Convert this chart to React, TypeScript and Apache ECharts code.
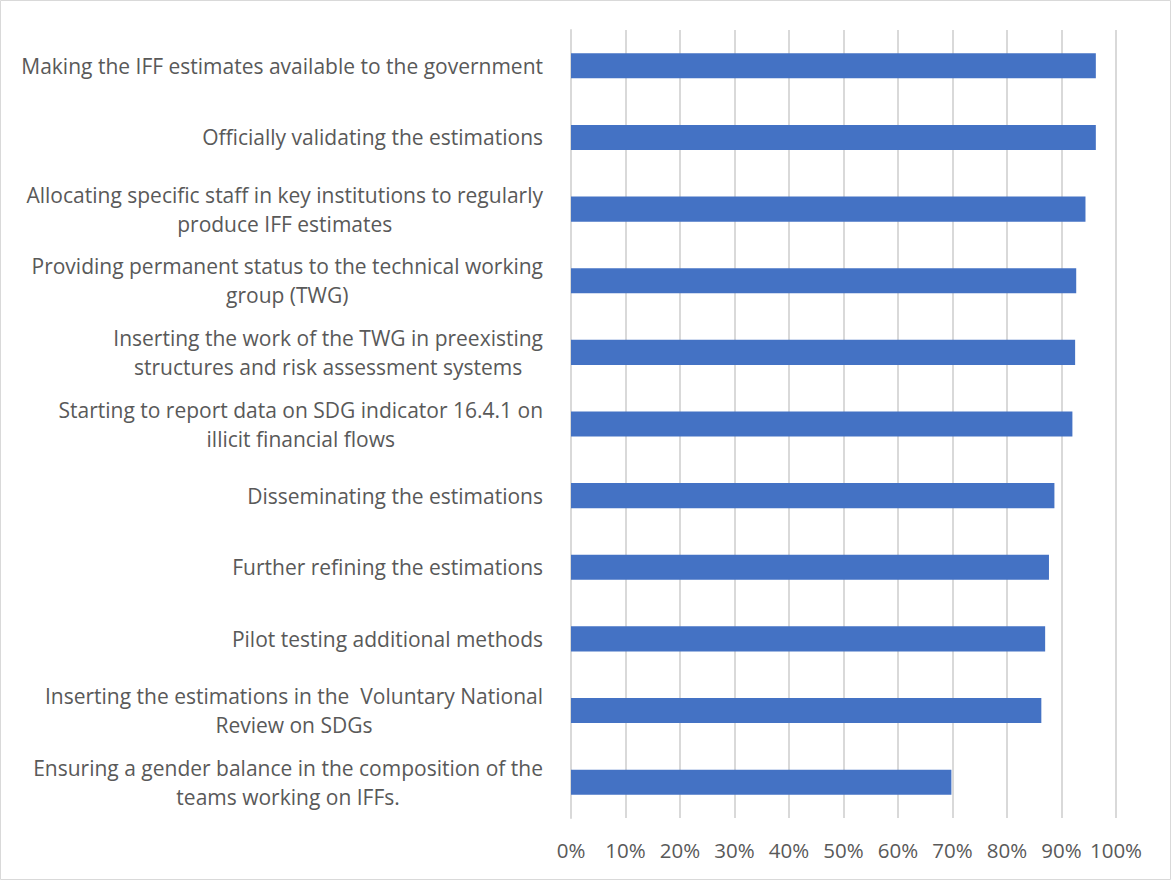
import React, { useEffect, useRef } from "react";
import * as echarts from "echarts";

const categories: string[] = [
  "Making the IFF estimates available to the government",
  "Officially validating the estimations",
  "Allocating specific staff in key institutions to regularly\nproduce IFF estimates",
  "Providing permanent status to the technical working\ngroup (TWG)",
  "Inserting the work of the TWG in preexisting\nstructures and risk assessment systems",
  "Starting to report data on SDG indicator 16.4.1 on\nillicit financial flows",
  "Disseminating the estimations",
  "Further refining the estimations",
  "Pilot testing additional methods",
  "Inserting the estimations in the  Voluntary National\nReview on SDGs",
  "Ensuring a gender balance in the composition of the\nteams working on IFFs.",
];

const values: number[] = [96.3, 96.3, 94.4, 92.7, 92.5, 92.0, 88.7, 87.7, 87.0, 86.3, 69.8];

const xTicks = { min: 0, max: 100, interval: 10 };

export default function App() {
  const ref = useRef<HTMLDivElement>(null);
  useEffect(() => {
    if (!ref.current) return;
    const chart = echarts.init(ref.current, undefined, { renderer: "svg" });
    const font = "'Open Sans', 'Noto Sans', sans-serif";
    chart.setOption({
      animation: false,
      backgroundColor: "#ffffff",
      graphic: [
        {
          type: "rect",
          shape: { x: 0.5, y: 0.5, width: 1170, height: 879 },
          style: { fill: "none", stroke: "#d9d9d9", lineWidth: 1 },
          silent: true,
        },
      ],
      grid: { left: 571, right: 55, top: 30, bottom: 62, containLabel: false },
      xAxis: {
        type: "value",
        min: xTicks.min,
        max: xTicks.max,
        interval: xTicks.interval,
        axisLine: { show: false },
        axisTick: { show: false },
        splitLine: { show: true, lineStyle: { color: "#d9d9d9", width: 2 } },
        axisLabel: {
          formatter: "{value}%",
          color: "#595959",
          fontSize: 20.5,
          fontFamily: font,
          margin: 21,
        },
      },
      yAxis: {
        type: "category",
        data: categories,
        inverse: true,
        axisLine: { show: true, lineStyle: { color: "#d9d9d9", width: 2 } },
        axisTick: { show: false },
        axisLabel: {
          margin: 28,
          align: "right",
          formatter: (v: string) =>
            v
              .split("\n")
              .map((l) => "{c|" + l + "}")
              .join("\n"),
          rich: {
            c: {
              align: "center",
              color: "#595959",
              fontSize: 21,
              fontFamily: font,
              lineHeight: 29,
            },
          },
        },
      },
      series: [
        {
          type: "bar",
          data: values,
          barCategoryGap: "65%",
          itemStyle: { color: "#4472C4" },
        },
      ],
    });
    return () => chart.dispose();
  }, []);
  return (
    <div
      ref={ref}
      style={{ position: "absolute", left: 0, top: 0, width: 1171, height: 880 }}
    />
  );
}
